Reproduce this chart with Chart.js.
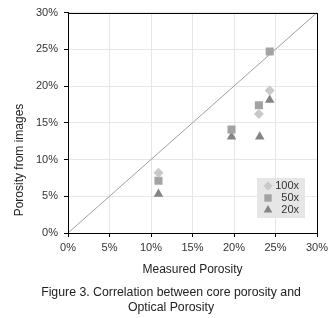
<!DOCTYPE html>
<html><head><meta charset="utf-8">
<script src="https://cdn.jsdelivr.net/npm/chart.js@4/dist/chart.umd.min.js"></script>
<style>html,body{margin:0;padding:0;background:#fff;}canvas{display:block;}</style>
</head><body>
<canvas id="c" width="333" height="318"></canvas>
<script>
const seriesNames = ['100x', '50x', '20x'];
const measured100 = [10.9, 23.0, 24.3];
const images100 = [8.2, 16.2, 19.4];
const measured50 = [10.9, 19.7, 23.0, 24.3];
const images50 = [7.1, 14.1, 17.4, 24.7];
const measured20 = [10.9, 19.7, 23.1, 24.3];
const images20 = [5.3, 13.1, 13.1, 18.1];
const diagonal = [0, 30];
const tickValues = [0, 5, 10, 15, 20, 25, 30];
const xTitle = 'Measured Porosity';
const yTitle = 'Porosity from images';
const caption = ['Figure 3. Correlation between core porosity and', 'Optical Porosity'];

const FAMILY = '"Liberation Sans", Arial, sans-serif';
const styles = [
  {pointStyle: 'rectRot', color: '#c9c9c9', radius: 5},
  {pointStyle: 'rect', color: '#a3a3a3', radius: 5.7},
  {pointStyle: 'triangle', color: '#858585', radius: 5.5}
];
function pts(xs, ys){ return xs.map((x,i)=>({x:x, y:ys[i]})); }
const dataSets = [pts(measured100, images100), pts(measured50, images50), pts(measured20, images20)];

const datasets = dataSets.map((d,i)=>({
  label: seriesNames[i], data: d, showLine: false,
  pointStyle: styles[i].pointStyle, pointRadius: styles[i].radius, pointHoverRadius: styles[i].radius,
  backgroundColor: styles[i].color, borderColor: styles[i].color, borderWidth: 0
}));
datasets.unshift({
  label: 'diag', data: pts(diagonal, diagonal), showLine: true, pointRadius: 0,
  borderColor: '#a0a0a0', borderWidth: 1, backgroundColor: '#a0a0a0'
});

const legendPlugin = {
  id: 'boxLegend',
  afterDatasetsDraw(chart){
    const ctx = chart.ctx;
    const x0 = 257, y0 = 178, w = 48, h = 40;
    ctx.save();
    ctx.fillStyle = '#e6e6e6';
    ctx.fillRect(x0, y0, w, h);
    ctx.font = '11px ' + FAMILY;
    ctx.textBaseline = 'middle';
    ctx.textAlign = 'right';
    seriesNames.forEach((n,i)=>{
      const cy = y0 + 8 + i*12;
      ctx.fillStyle = styles[i].color;
      Chart.helpers.drawPoint(ctx, {pointStyle: styles[i].pointStyle, radius: styles[i].radius - 0.5, borderWidth: 0}, x0 + 11, cy);
      ctx.fillStyle = '#333';
      ctx.fillText(n, x0 + 42, cy);
    });
    ctx.restore();
  }
};

const framePlugin = {
  id: 'frame',
  afterDraw(chart){
    const a = chart.chartArea, ctx = chart.ctx;
    ctx.save();
    ctx.strokeStyle = '#000'; ctx.lineWidth = 1;
    ctx.strokeRect(Math.round(a.left)+0.5, Math.round(a.top)+0.5, Math.round(a.right-a.left), Math.round(a.bottom-a.top));
    ctx.fillStyle = '#222';
    ctx.font = '12px ' + FAMILY;
    ctx.textAlign = 'center'; ctx.textBaseline = 'middle';
    ctx.translate(20, 160);
    ctx.rotate(-Math.PI/2);
    ctx.fillText(yTitle, 0, 0);
    ctx.setTransform(1,0,0,1,0,0);
    ctx.font = '12.3px ' + FAMILY;
    caption.forEach((line, i) => ctx.fillText(line, 171, 293 + i*15));
    ctx.restore();
  }
};

const font = {family: FAMILY, size: 11};
function tickOpts(){
  return {
    min: 0, max: 30,
    afterBuildTicks: s => { s.ticks = tickValues.map(v=>({value:v})); },
    grid: {color: '#e6e6e6', drawTicks: true, tickLength: 4, tickColor: '#000'},
    border: {display: true, color: '#000'},
  };
}

new Chart(document.getElementById('c'), {
  type: 'scatter',
  data: {datasets},
  plugins: [legendPlugin, framePlugin],
  options: {
    responsive: false, animation: false, devicePixelRatio: 1,
    layout: {padding: {top: 11, right: 16, left: 0, bottom: 40}},
    plugins: { legend: {display: false}, tooltip: {enabled: false} },
    scales: {
      x: Object.assign(tickOpts(), {
        type: 'linear',
        ticks: {font, color: '#333', padding: 4, maxRotation: 0, callback: v => v + '%'},
        title: {display: true, text: xTitle, color: '#222', font: {family: FAMILY, size: 12}, padding: {top: 0, bottom: 1}},
        afterFit: s => { s.height = 45; }
      }),
      y: Object.assign(tickOpts(), {
        type: 'linear',
        ticks: {font, color: '#333', padding: 6, callback: v => v + '%'},
        afterFit: s => { s.width = 68; }
      })
    }
  }
});
</script>
</body></html>
